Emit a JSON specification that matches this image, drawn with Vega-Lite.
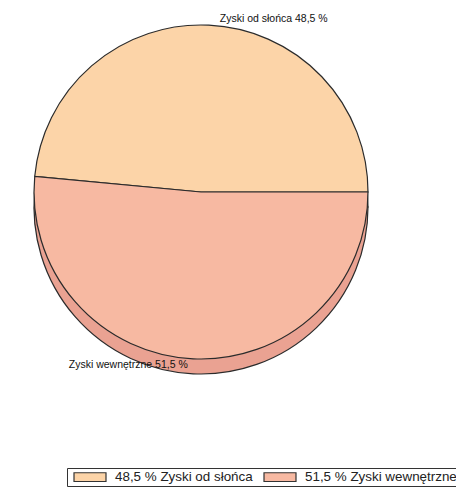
{
  "$schema": "https://vega.github.io/schema/vega-lite/v6.json",
  "width": 402,
  "height": 384,
  "padding": 0,
  "autosize": {"type": "pad"},
  "background": "white",
  "config": {"view": {"stroke": null}, "font": "Liberation Sans"},
  "data": {
    "values": [
      {"name": "Zyski od słońca", "value": 48.5, "order": 2, "legend": "48,5 % Zyski od słońca", "label": "Zyski od słońca 48,5 %"},
      {"name": "Zyski wewnętrzne", "value": 51.5, "order": 1, "legend": "51,5 % Zyski wewnętrzne", "label": "Zyski wewnętrzne 51,5 %"}
    ]
  },
  "encoding": {
    "theta": {"field": "value", "type": "quantitative", "stack": true, "scale": {"range": [1.5708, 7.854]}},
    "order": {"field": "order", "type": "quantitative"}
  },
  "layer": [
    {
      "mark": {"type": "arc", "radius": 167, "yOffset": 15, "color": "#EAA292", "stroke": "#2b2b2b", "strokeWidth": 1.2}
    },
    {
      "mark": {"type": "arc", "radius": 167, "stroke": "#2b2b2b", "strokeWidth": 1.2},
      "encoding": {
        "color": {
          "field": "legend",
          "type": "nominal",
          "scale": {"domain": ["48,5 % Zyski od słońca", "51,5 % Zyski wewnętrzne"], "range": ["#FCD4A8", "#F7B9A2"]},
          "legend": {
            "orient": "none",
            "legendX": 67,
            "legendY": 468,
            "direction": "horizontal",
            "title": null,
            "strokeColor": "#333333",
            "padding": 2,
            "columnPadding": 6,
            "labelFontSize": 13.4,
            "labelFont": "Liberation Sans",
            "labelColor": "#222222",
            "labelOffset": 32,
            "symbolType": "M-0.333,-0.73H5V0.73H-0.333Z",
            "symbolSize": 144,
            "symbolStrokeColor": "#333333",
            "symbolStrokeWidth": 1.2,
            "symbolOpacity": 1
          }
        }
      }
    },
    {
      "mark": {"type": "text", "radius": 188, "thetaOffset": 0.35, "fontSize": 10.5, "font": "Liberation Sans", "color": "#111111"},
      "encoding": {"text": {"field": "label"}}
    }
  ]
}
